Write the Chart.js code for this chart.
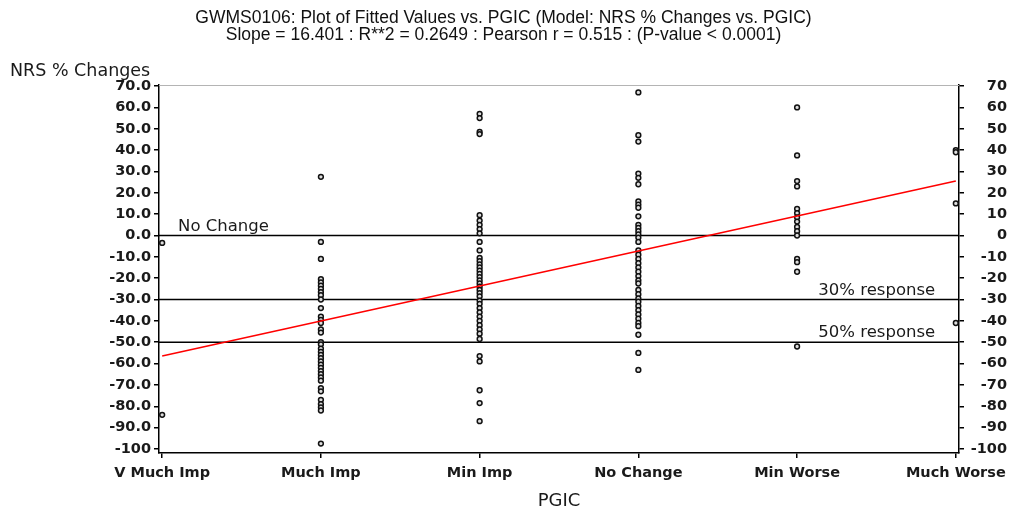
<!DOCTYPE html>
<html>
<head>
<meta charset="utf-8">
<script src="https://cdn.jsdelivr.net/npm/chart.js@4.4.1/dist/chart.umd.min.js"></script>
<style>
  html, body { margin: 0; padding: 0; background: #fff; }
  #wrap { width: 1010px; height: 512px; }
</style>
</head>
<body>
<div id="wrap"><canvas id="fitChart" width="1010" height="512"></canvas></div>
<script>
/* --- Data --- */
const categories = ['V Much Imp', 'Much Imp', 'Min Imp', 'No Change', 'Min Worse', 'Much Worse'];

const vMuchImp = [-3.5, -84];
const muchImp = [27.5, -3, -11, -20.5, -22, -23.5, -25, -26.5, -28, -30, -34, -38, -39.5, -41, -44, -45.5,
    -50, -51, -53, -54.5, -56, -57.5, -59, -60.5, -62, -63.5, -65, -66.5, -68, -71.5, -73, -77, -79, -80.5, -82, -97.5];
const minImp = [57, 55, 48.5, 47.5, 9.5, 7, 5, 3, 1, -3, -7, -10.5, -12, -13.5, -15, -16.5, -18, -19.5, -21, -22.5,
    -24, -25.5, -27, -28.5, -30.5, -32, -34, -36, -38, -40, -42, -44, -46, -48.5, -56.5, -59, -72.5, -78.5, -87];
const noChange = [67, 47, 44, 29, 27, 24, 16, 14.5, 13, 9, 5, 3.5, 2, 0.5, -1, -3, -7, -9, -11, -13, -15, -17, -19,
    -21, -22.5, -25.5, -27.5, -29.5, -31, -33, -35, -37, -39, -41, -42.5, -46.5, -55, -63];
const minWorse = [60, 37.5, 25.5, 23, 12.5, 10.5, 8.5, 6.5, 4, 2, 0, -11, -12.5, -17, -52];
const muchWorse = [40, 39, 15, -41];

// fitted regression line, read at both ends of the x range
const fitX = [1, 6];
const fitY = [-56.5, 25.5];

// y axis ticks
const yTickValues = [70, 60, 50, 40, 30, 20, 10, 0, -10, -20, -30, -40, -50, -60, -70, -80, -90, -100];
const leftTickLabels = ['70.0', '60.0', '50.0', '40.0', '30.0', '20.0', '10.0', '0.0', '-10.0', '-20.0',
    '-30.0', '-40.0', '-50.0', '-60.0', '-70.0', '-80.0', '-90.0', '-100'];
const rightTickLabels = ['70', '60', '50', '40', '30', '20', '10', '0', '-10', '-20',
    '-30', '-40', '-50', '-60', '-70', '-80', '-90', '-100'];

// horizontal reference lines
const refValues = [0, -30, -50];
const refLabels = ['No Change', '30% response', '50% response'];

const titleLines = [
    'GWMS0106: Plot of Fitted Values vs. PGIC (Model: NRS % Changes vs. PGIC)',
    'Slope = 16.401 : R**2 = 0.2649 : Pearson r = 0.515 : (P-value < 0.0001)'
];

/* --- Build points --- */
const columns = [vMuchImp, muchImp, minImp, noChange, minWorse, muchWorse];
const points = [];
columns.forEach((col, i) => {
    col.forEach(v => points.push({ x: i + 1, y: v }));
});

/* --- Reference lines + captions --- */
const refLinesPlugin = {
    id: 'refLines',
    beforeDatasetsDraw(chart) {
        const { ctx, chartArea: a, scales: { x, y } } = chart;
        ctx.save();

        // faint top edge of the frame
        ctx.strokeStyle = '#b4b4b4';
        ctx.lineWidth = 1;
        ctx.beginPath();
        ctx.moveTo(a.left, a.top + 0.5);
        ctx.lineTo(a.right, a.top + 0.5);
        ctx.stroke();

        ctx.strokeStyle = '#000';
        ctx.lineWidth = 1.5;
        refValues.forEach(v => {
            const py = y.getPixelForValue(v);
            ctx.beginPath();
            ctx.moveTo(a.left, py);
            ctx.lineTo(a.right, py);
            ctx.stroke();
        });

        ctx.font = '16.5px "DejaVu Sans"';
        ctx.fillStyle = '#1a1a1a';
        ctx.textBaseline = 'bottom';
        ctx.textAlign = 'left';
        ctx.fillText(refLabels[0], x.getPixelForValue(1.1), y.getPixelForValue(refValues[0]) - 1);
        ctx.textAlign = 'right';
        ctx.fillText(refLabels[1], x.getPixelForValue(5.87), y.getPixelForValue(refValues[1]) - 1);
        ctx.fillText(refLabels[2], x.getPixelForValue(5.87), y.getPixelForValue(refValues[2]) - 1);

        // y axis caption sits horizontally above the axis
        ctx.font = '17.5px "DejaVu Sans"';
        ctx.textAlign = 'left';
        ctx.textBaseline = 'middle';
        ctx.fillText('NRS % Changes', 10, 71);
        ctx.restore();
    }
};

/* --- Chart --- */
Chart.defaults.font.family = "'DejaVu Sans', sans-serif";
Chart.defaults.color = '#1a1a1a';

const setYTicks = (s) => { s.ticks = yTickValues.map(v => ({ value: v })); };
const axisGrid = { display: true, drawOnChartArea: false, drawTicks: true, tickLength: 5, color: '#000', lineWidth: 1.5 };
const axisBorder = { display: true, color: '#000', width: 1.5 };
const tickFont = { size: 14.5, weight: 'bold' };

new Chart(document.getElementById('fitChart'), {
    type: 'scatter',
    data: {
        datasets: [
            {
                type: 'line',
                label: 'Fitted',
                data: fitX.map((v, i) => ({ x: v, y: fitY[i] })),
                borderColor: '#ff0000',
                borderWidth: 1.6,
                pointRadius: 0,
                fill: false
            },
            {
                label: 'NRS % Changes',
                data: points,
                pointStyle: 'circle',
                pointRadius: 2.4,
                borderWidth: 1.5,
                borderColor: '#111',
                backgroundColor: '#ddd'
            }
        ]
    },
    options: {
        responsive: false,
        animation: false,
        layout: { padding: { left: 0, right: 3, top: 0, bottom: 0 } },
        plugins: {
            legend: { display: false },
            tooltip: { enabled: false },
            title: {
                display: true,
                text: titleLines,
                color: '#111',
                font: { family: "'Liberation Sans', Arial, sans-serif", size: 17.5, weight: 'normal', lineHeight: 1.0 },
                padding: { top: 9, bottom: 41 }
            }
        },
        scales: {
            x: {
                type: 'linear',
                min: 0.98,
                max: 6.02,
                afterBuildTicks: (s) => { s.ticks = categories.map((c, i) => ({ value: i + 1 })); },
                afterFit: (s) => { s.height = 59; s.paddingLeft = 0; s.paddingRight = 0; },
                grid: axisGrid,
                border: axisBorder,
                ticks: {
                    callback: (v, i) => categories[i],
                    font: tickFont,
                    padding: 7,
                    maxRotation: 0,
                    autoSkip: false
                },
                title: {
                    display: true,
                    text: 'PGIC',
                    font: { size: 18 },
                    padding: { top: 0, bottom: 0 }
                }
            },
            y: {
                position: 'left',
                min: -101.9,
                max: 70.5,
                afterBuildTicks: setYTicks,
                afterFit: (s) => { s.width = 159; },
                grid: axisGrid,
                border: axisBorder,
                ticks: {
                    callback: (v, i) => leftTickLabels[i],
                    font: tickFont,
                    padding: 3,
                    autoSkip: false
                }
            },
            y2: {
                position: 'right',
                min: -101.9,
                max: 70.5,
                afterBuildTicks: setYTicks,
                afterFit: (s) => { s.width = 48; },
                grid: axisGrid,
                border: axisBorder,
                ticks: {
                    callback: (v, i) => rightTickLabels[i],
                    font: tickFont,
                    padding: 3,
                    crossAlign: 'far',
                    autoSkip: false
                }
            }
        }
    },
    plugins: [refLinesPlugin]
});
</script>
</body>
</html>
